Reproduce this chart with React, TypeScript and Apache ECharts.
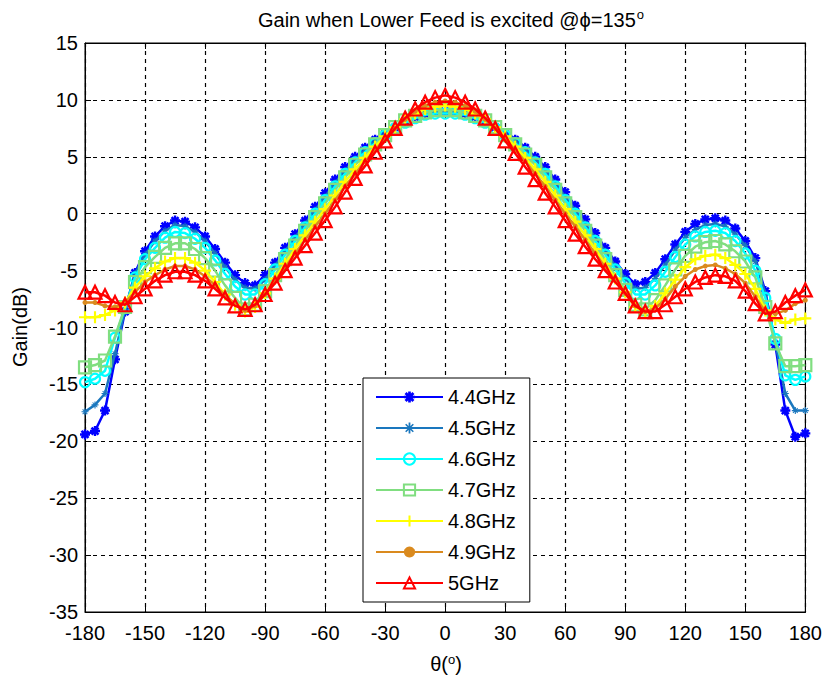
import React, { useEffect, useRef } from "react";
import * as echarts from "echarts";

const thetas = [
  -180, -175, -170, -165, -160, -155, -150, -145, -140, -135, -130, -125, -120, -115, -110, -105, -100, -95,
  -90, -85, -80, -75, -70, -65, -60, -55, -50, -45, -40, -35, -30, -25, -20, -15, -10, -5, 0,
  5, 10, 15, 20, 25, 30, 35, 40, 45, 50, 55, 60, 65, 70, 75, 80, 85, 90,
  95, 100, 105, 110, 115, 120, 125, 130, 135, 140, 145, 150, 155, 160, 165, 170, 175, 180,
];

const gain44 = [
  -19.4, -19.1, -17.3, -12.8, -8.6, -5.2, -3.3,
  -2.0, -1.1, -0.6, -0.7, -1.2, -2.0, -3.1, -4.3, -5.4, -6.1, -6.3,
  -5.4, -4.3, -3.0, -1.8, -0.6, 0.6, 1.8, 3.0, 4.1, 5.0, 5.8, 6.5, 7.1, 7.6, 8.1, 8.5, 8.8, 9.0, 9.0,
  9.0, 8.8, 8.5, 8.1, 7.6, 7.1, 6.5, 5.8, 5.0, 4.1, 3.0, 1.9, 0.7, -0.5, -1.7, -3.0, -4.2, -5.3,
  -6.2, -6.0, -5.2, -4.0, -2.7, -1.6, -0.9, -0.5, -0.4, -0.6, -1.3,
  -2.4, -3.9, -6.8, -11.5, -17.3, -19.6, -19.3,
];
const gain45 = [
  -17.4, -16.8, -15.8, -12.3, -8.4, -5.3, -3.6,
  -2.4, -1.5, -1.0, -1.1, -1.6, -2.4, -3.5, -4.7, -5.8, -6.5, -6.6,
  -5.8, -4.6, -3.3, -2.1, -0.9, 0.3, 1.5, 2.7, 3.8, 4.8, 5.6, 6.4, 7.0, 7.6, 8.1, 8.5, 8.8, 9.0, 9.0,
  9.0, 8.8, 8.5, 8.1, 7.6, 7.0, 6.4, 5.6, 4.8, 3.8, 2.7, 1.5, 0.3, -0.9, -2.1, -3.3, -4.6, -5.7,
  -6.6, -6.5, -5.7, -4.5, -3.2, -2.1, -1.4, -1.0, -0.9, -1.1, -1.8,
  -2.8, -4.2, -7.0, -11.3, -15.8, -17.3, -17.3,
];
const gain46 = [
  -14.8, -14.5, -13.8, -10.9, -8.3, -5.6, -4.0,
  -3.0, -2.1, -1.6, -1.7, -2.2, -3.0, -4.1, -5.3, -6.4, -7.1, -7.1,
  -6.2, -4.9, -3.6, -2.4, -1.2, 0.0, 1.2, 2.4, 3.5, 4.5, 5.4, 6.2, 6.9, 7.5, 8.0, 8.4, 8.7, 8.8, 8.8,
  8.8, 8.7, 8.4, 8.0, 7.5, 6.9, 6.2, 5.4, 4.5, 3.5, 2.4, 1.2, 0.0, -1.2, -2.4, -3.6, -4.9, -6.1,
  -7.1, -7.1, -6.3, -5.1, -3.8, -2.7, -2.0, -1.6, -1.5, -1.7, -2.4,
  -3.5, -5.0, -7.4, -11.0, -14.2, -14.6, -14.3,
];
const gain47 = [
  -13.5, -13.3, -12.9, -10.8, -8.2, -6.0, -4.7,
  -3.8, -3.0, -2.6, -2.6, -3.1, -3.9, -5.0, -6.3, -7.4, -8.4, -8.0,
  -6.8, -5.4, -4.0, -2.8, -1.5, -0.3, 0.9, 2.1, 3.2, 4.3, 5.2, 6.1, 6.9, 7.6, 8.2, 8.6, 8.9, 9.1, 9.1,
  9.1, 8.9, 8.6, 8.2, 7.6, 6.9, 6.1, 5.2, 4.3, 3.2, 2.1, 0.9, -0.3, -1.5, -2.8, -4.0, -5.4, -6.7,
  -8.0, -8.4, -7.6, -6.3, -4.9, -3.7, -2.9, -2.5, -2.4, -2.7, -3.3,
  -4.2, -5.6, -8.2, -11.4, -13.4, -13.4, -13.3,
];
const gain48 = [
  -9.1, -9.1, -8.9, -8.5, -7.8, -6.5, -5.5,
  -4.8, -4.2, -3.9, -3.9, -4.3, -5.0, -6.0, -7.1, -8.0, -8.6, -8.2,
  -7.0, -5.7, -4.4, -3.1, -1.9, -0.7, 0.4, 1.6, 2.8, 3.9, 4.9, 5.9, 6.8, 7.6, 8.3, 8.8, 9.2, 9.4, 9.5,
  9.4, 9.2, 8.8, 8.3, 7.6, 6.8, 5.9, 4.9, 3.9, 2.8, 1.6, 0.4, -0.7, -1.9, -3.1, -4.4, -5.7, -6.9,
  -8.2, -8.7, -8.1, -7.0, -5.8, -4.7, -4.0, -3.7, -3.6, -3.9, -4.5,
  -5.3, -6.6, -8.5, -9.3, -9.6, -9.3, -9.2,
];
const gain49 = [
  -7.8, -7.8, -8.1, -8.2, -7.8, -6.9, -6.0,
  -5.4, -4.9, -4.6, -4.6, -4.9, -5.5, -6.3, -7.2, -7.9, -8.5, -8.1,
  -7.1, -5.9, -4.7, -3.5, -2.3, -1.1, 0.0, 1.2, 2.4, 3.5, 4.6, 5.6, 6.6, 7.5, 8.3, 9.0, 9.5, 9.8, 9.9,
  9.8, 9.5, 9.0, 8.3, 7.5, 6.6, 5.6, 4.6, 3.5, 2.4, 1.2, 0.0, -1.1, -2.3, -3.5, -4.7, -5.9, -7.0,
  -8.1, -8.6, -8.3, -7.5, -6.4, -5.5, -4.9, -4.6, -4.5, -4.8, -5.3,
  -6.1, -7.3, -8.6, -8.8, -8.5, -7.9, -7.6,
];
const gain50 = [
  -6.9, -6.9, -7.2, -7.8, -8.0, -7.3, -6.6,
  -5.9, -5.4, -5.1, -5.1, -5.4, -5.9, -6.6, -7.4, -8.1, -8.4, -8.0,
  -7.1, -6.1, -5.0, -3.9, -2.8, -1.7, -0.6, 0.6, 1.9, 3.1, 4.2, 5.4, 6.4, 7.5, 8.4, 9.2, 9.8, 10.2, 10.4,
  10.2, 9.8, 9.2, 8.4, 7.5, 6.4, 5.3, 4.1, 3.0, 1.8, 0.6, -0.6, -1.8, -2.9, -4.0, -5.0, -6.0, -7.0,
  -8.1, -8.6, -8.6, -8.0, -7.3, -6.6, -6.0, -5.6, -5.4, -5.5, -5.9,
  -6.8, -7.9, -8.8, -8.6, -7.8, -7.2, -6.7,
];

const seriesNames = ["4.4GHz", "4.5GHz", "4.6GHz", "4.7GHz", "4.8GHz", "4.9GHz", "5GHz"];
const seriesValues = [gain44, gain45, gain46, gain47, gain48, gain49, gain50];
const seriesColors = ["#0000FF", "#1A77BE", "#00FFFF", "#80DE80", "#FFFF00", "#DA8A1E", "#FF0000"];

const ASTERISK =
  "path://M0,0.38 H1 V0.62 H0 Z M0.38,0 H0.62 V1 H0.38 Z M0.24,0.06 L0.94,0.76 L0.76,0.94 L0.06,0.24 Z M0.76,0.06 L0.94,0.24 L0.24,0.94 L0.06,0.76 Z";
const ASTERISK_THIN =
  "path://M0,0.42 H1 V0.58 H0 Z M0.42,0 H0.58 V1 H0.42 Z M0.21,0.11 L0.89,0.79 L0.79,0.89 L0.11,0.21 Z M0.79,0.11 L0.89,0.21 L0.21,0.89 L0.11,0.79 Z";
const PLUS = "path://M0,0.41 H1 V0.59 H0 Z M0.41,0 H0.59 V1 H0.41 Z";

const markers = [
  { symbol: ASTERISK, size: 10, hollow: false },
  { symbol: ASTERISK_THIN, size: 7, hollow: false },
  { symbol: "circle", size: 10, hollow: true },
  { symbol: "rect", size: 12, hollow: true },
  { symbol: PLUS, size: 12, hollow: false },
  { symbol: "circle", size: 5, hollow: false },
  { symbol: "triangle", size: 13, hollow: true },
];

const FONT = "'Liberation Sans', Arial, Helvetica, sans-serif";

export default function App() {
  const ref = useRef<HTMLDivElement>(null);

  useEffect(() => {
    if (!ref.current) return;
    const chart = echarts.init(ref.current, undefined, { renderer: "svg" });

    const series = seriesNames.map((name, i) => {
      const c = seriesColors[i];
      const m = markers[i];
      return {
        name,
        type: "line",
        data: thetas.map((t, k) => [t, seriesValues[i][k]]),
        symbol: m.symbol,
        symbolSize: m.size,
        showSymbol: true,
        color: c,
        lineStyle: { color: c, width: 2.5 },
        itemStyle: m.hollow
          ? { color: "rgba(255,255,255,0)", borderColor: c, borderWidth: 2.2 }
          : { color: c, borderWidth: 0 },
        emphasis: { disabled: true },
        z: 2 + i,
      };
    });

    const axisCommon = {
      axisLine: { show: true, onZero: false, lineStyle: { color: "#000", width: 1 } },
      axisTick: { show: true, inside: true, length: 6, lineStyle: { color: "#000" } },
    };

    chart.setOption({
      animation: false,
      backgroundColor: "#fff",
      textStyle: { fontFamily: FONT },
      title: {
        text: "Gain when Lower Feed is excited @\u03d5=135{sup|o}",
        left: 446,
        top: 3,
        textAlign: "center",
        textStyle: {
          fontFamily: FONT,
          fontSize: 20,
          fontWeight: "normal",
          color: "#000",
          rich: {
            sup: { fontFamily: FONT, fontSize: 13, color: "#000", padding: [0, 0, 10, 1] },
          },
        },
      },
      grid: {
        left: 85,
        right: 19,
        top: 43,
        bottom: 69,
        show: true,
        borderColor: "#000",
        borderWidth: 1,
        backgroundColor: "#fff",
      },
      legend: {
        data: seriesNames,
        orient: "vertical",
        left: 363,
        top: 378,
        align: "left",
        itemWidth: 67,
        itemHeight: 14,
        itemGap: 11,
        padding: [9, 14, 9, 12],
        borderColor: "#000",
        borderWidth: 1,
        backgroundColor: "#fff",
        textStyle: { fontFamily: FONT, fontSize: 20, color: "#000" },
        selectedMode: false,
      },
      xAxis: [
        {
          type: "value",
          min: -180,
          max: 180,
          interval: 30,
          position: "bottom",
          ...axisCommon,
          axisLabel: { color: "#000", fontSize: 20, margin: 11, fontFamily: FONT },
          splitLine: { show: true, lineStyle: { color: "#000", type: [4, 4], width: 1.2 } },
        },
        {
          type: "value",
          min: -180,
          max: 180,
          interval: 30,
          position: "top",
          ...axisCommon,
          axisLabel: { show: false },
          splitLine: { show: false },
        },
      ],
      yAxis: [
        {
          type: "value",
          min: -35,
          max: 15,
          interval: 5,
          position: "left",
          ...axisCommon,
          axisLabel: { color: "#000", fontSize: 20, margin: 7, fontFamily: FONT },
          splitLine: { show: true, lineStyle: { color: "#000", type: [4, 4], width: 1.2 } },
        },
        {
          type: "value",
          min: -35,
          max: 15,
          interval: 5,
          position: "right",
          ...axisCommon,
          axisLabel: { show: false },
          splitLine: { show: false },
        },
      ],
      graphic: [
        {
          type: "text",
          x: 446,
          y: 664,
          style: {
            text: "\u03b8({sup|o})",
            fontFamily: FONT,
            fontSize: 20,
            fill: "#000",
            align: "center",
            verticalAlign: "middle",
            rich: { sup: { fontFamily: FONT, fontSize: 13, fill: "#000", padding: [0, 0, 10, 0] } },
          },
        },
        {
          type: "text",
          x: 20,
          y: 327,
          rotation: Math.PI / 2,
          style: {
            text: "Gain(dB)",
            fontFamily: FONT,
            fontSize: 20,
            fill: "#000",
            align: "center",
            verticalAlign: "middle",
          },
        },
      ],
      series,
    });

    return () => chart.dispose();
  }, []);

  return (
    <div
      ref={ref}
      style={{ position: "fixed", left: 0, top: 0, width: 825, height: 681, background: "#fff" }}
    />
  );
}
